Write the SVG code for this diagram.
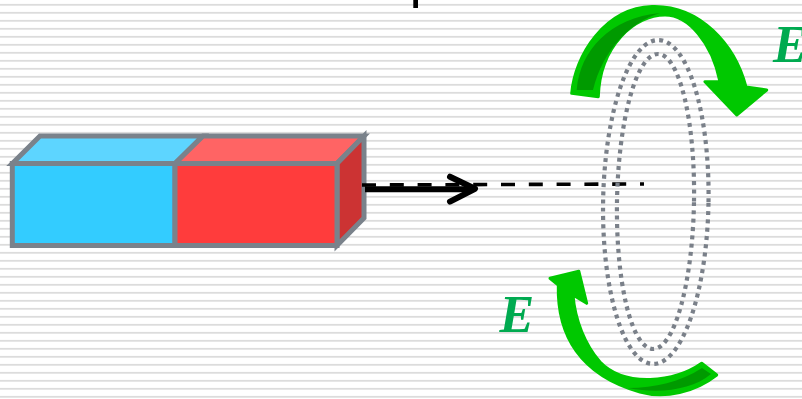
<svg xmlns="http://www.w3.org/2000/svg" width="802" height="399" viewBox="0 0 802 399">
<style>
.edge{stroke:#7a828b;stroke-width:5;stroke-linejoin:miter}
.ring{fill:none;stroke:#7a8089;stroke-width:4.2;stroke-dasharray:4 4.3}
.field{fill:#00c800;stroke:#00c800;stroke-width:3;stroke-linejoin:round}
.field-dark{fill:#009a00}
.label{font-family:"Liberation Serif","Times New Roman",serif;font-weight:bold;font-style:italic;font-size:52px;fill:#00aa50}
</style>
<defs>
<pattern id="stripes" x="0" y="0" width="802" height="8" patternUnits="userSpaceOnUse">
<rect x="0" y="3.9" width="802" height="1.8" fill="#dcdcdc"/>
</pattern>
</defs>
<rect id="background" x="0" y="0" width="802" height="399" fill="#ffffff"/>
<rect x="0" y="0" width="802" height="399" fill="url(#stripes)"/>
<rect x="413.3" y="0" width="4.7" height="8" fill="#000000"/>

<g id="magnet">
<polygon class="edge" points="12.3,163.5 40,136 203,136 175,163.5" fill="#5dd5ff"/>
<rect class="edge" x="12.3" y="163.5" width="162.7" height="82" fill="#33ccff"/>
<polygon class="edge" points="175,163.5 203,136 364,136 337,163.5" fill="#ff6464"/>
<polygon class="edge" points="337,163.5 364,136 364,218 337,245.5" fill="#cc3333"/>
<rect class="edge" x="175" y="163.5" width="162" height="82" fill="#ff3c3c"/>
</g>

<g id="connectors">
<line x1="362" y1="185" x2="644" y2="184" stroke="#000" stroke-width="3.6" stroke-dasharray="14 13.8"/>
<line x1="365" y1="189.3" x2="470" y2="189.3" stroke="#000" stroke-width="6"/>
<polyline points="450,176.7 475,188.8 450,201.7" fill="none" stroke="#000" stroke-width="6" stroke-linecap="round" stroke-linejoin="round"/>
</g>

<g id="field-top">
<path class="field" d="M571.7,93.3 C575,55 605,8 652,6.5 C700,5 735,45 746,87 L766.7,90 L736.7,115 L705,81.7 L720,81.7 C712,42 688,15 665,15 C635,15 600,45 598.3,96.7 Z"/>
<path class="field-dark" d="M576.7,90 C580,50 610,18 660,13 C630,22 603,50 593,90 Z"/>
</g>

<g id="field-bottom">
<path class="field" d="M701.7,363.3 C675,382 625,388 600,362 C585,345 575,320 573,295 L586.7,303.3 L578.8,271.2 L550,278.3 L558.3,285 C557,335 580,375 640,392 C665,399 695,392 716.7,375 Z"/>
<path class="field-dark" d="M702,368 C680,382 655,388 628,388 C660,394 692,390 711,374 Z"/>
</g>

<g id="ring">
<ellipse class="ring" cx="655.8" cy="202" rx="52.7" ry="162" transform="rotate(1 655.8 202)"/>
<ellipse class="ring" cx="655.5" cy="201.5" rx="38.5" ry="147.5" transform="rotate(1 655.5 201.5)"/>
</g>

<g id="labels">
<text class="label" x="773" y="62">E</text>
<text class="label" x="499.4" y="332">E</text>
</g>
</svg>
